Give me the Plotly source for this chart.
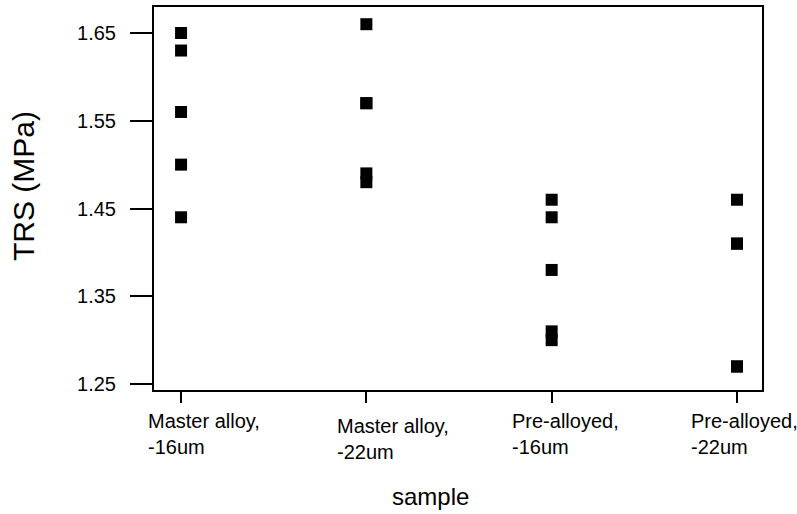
import plotly.graph_objects as go

categories = ["Master alloy,<br>-16um", "Master alloy,<br>-22um",
              "Pre-alloyed,<br>-16um", "Pre-alloyed,<br>-22um"]
master_16 = [1.65, 1.63, 1.56, 1.50, 1.44]
master_22 = [1.66, 1.57, 1.57, 1.49, 1.48]
pre_16 = [1.46, 1.44, 1.38, 1.31, 1.30]
pre_22 = [1.46, 1.41, 1.41, 1.27, 1.27]
y_ticks = [1.25, 1.35, 1.45, 1.55, 1.65]
y_tick_text = ["1.25", "1.35", "1.45", "1.55", "1.65"]

series = [master_16, master_22, pre_16, pre_22]
xs, ys = [], []
for i, vals in enumerate(series):
    xs += [i] * len(vals)
    ys += vals

FONT = "Arial, Liberation Sans, sans-serif"
W, H = 797, 514
L, R, T, B = 154, 35, 7, 124
PW, PH = W - L - R, H - T - B

fig = go.Figure()
fig.add_trace(go.Scatter(
    x=xs, y=ys, mode="markers",
    marker=dict(symbol="square", size=12, color="black",
                line=dict(width=0)),
    showlegend=False, hoverinfo="y"))

# category labels (left aligned, as in reference)
label_shift = [-35, -31, -42, -48]
label_yshift = [0, -5, 0, 0]
for i, lab in enumerate(categories):
    fig.add_annotation(x=i, y=0, xref="x", yref="paper", text=lab,
                       showarrow=False, xanchor="left", yanchor="top",
                       align="left", xshift=label_shift[i],
                       yshift=-18 + label_yshift[i],
                       font=dict(family=FONT, size=20, color="black"))

# axis titles placed at the reference pixel positions
fig.add_annotation(x=(430 - L) / PW, y=-(496 - (H - B)) / PH, xref="paper", yref="paper",
                   text="sample", showarrow=False, xanchor="center", yanchor="middle",
                   font=dict(family=FONT, size=24, color="black"))
fig.add_annotation(x=(23 - L) / PW, y=((H - B) - 186) / PH, xref="paper", yref="paper",
                   text="TRS (MPa)", textangle=-90, showarrow=False,
                   xanchor="center", yanchor="middle",
                   font=dict(family=FONT, size=30, color="black"))

fig.update_layout(
    width=W, height=H,
    margin=dict(l=L, r=R, t=T, b=B, autoexpand=False),
    paper_bgcolor="white", plot_bgcolor="white",
    font=dict(family=FONT, color="black"),
    xaxis=dict(range=[-0.146, 3.135], tickvals=[0, 1, 2, 3],
               showticklabels=False, ticks="outside", ticklen=11,
               tickwidth=2, tickcolor="black", showgrid=False, zeroline=False,
               showline=True, linecolor="black", linewidth=2, mirror=True),
    yaxis=dict(range=[1.2432, 1.6796], tickvals=y_ticks, ticktext=y_tick_text,
               ticks="outside", ticklen=22, tickwidth=2, tickcolor="black",
               tickfont=dict(family=FONT, size=20, color="black"),
               ticklabelstandoff=10,
               showgrid=False, zeroline=False,
               showline=True, linecolor="black", linewidth=2, mirror=True),
)

fig.write_html("out.html", config={"displayModeBar": False},
               post_script="document.body.style.margin='0';")
